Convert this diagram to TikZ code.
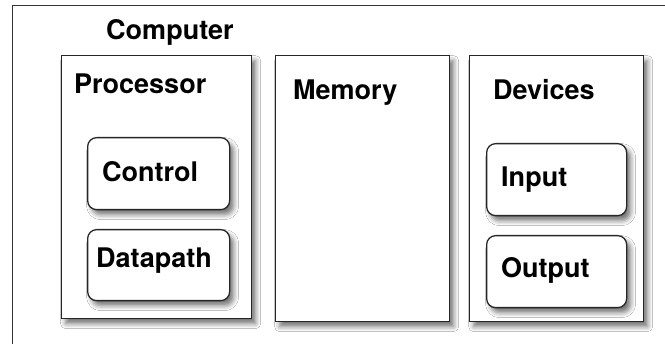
\documentclass[tikz,border=0pt]{standalone}
\usepackage{fontspec}
\setmainfont{TeX Gyre Heros}
\usetikzlibrary{shadows.blur}
\tikzset{
  box/.style={draw=black!85,line width=1.3pt,fill=white,inner sep=0pt,anchor=north west,
    blur shadow={shadow xshift=4pt,shadow yshift=-5pt,shadow blur radius=5pt,shadow opacity=55}},
  unit/.style={box,rounded corners=9pt},
  title/.style={font=\bfseries\fontsize{27}{27}\selectfont,anchor=base west,inner sep=0pt}
}
\begin{document}
\begin{tikzpicture}[x=1pt,y=-1pt]
\useasboundingbox (0,0) rectangle (665,344);
% whole machine, cut off at right and bottom
\node[draw=black!80,line width=1.3pt,fill=white,inner sep=0pt,anchor=north west,
  minimum width=700pt,minimum height=380pt] (computer) at (12,5) {};
\node[title] (computerlbl) at (106,40) {Computer};
% processor
\node[box,minimum width=190pt,minimum height=263pt] (processor) at (61,55) {};
\node[title] (processorlbl) at (74,94) {Processor};
\node[unit,minimum width=142pt,minimum height=72pt] (control) at (87,137) {};
\node[title] (controllbl) at (102,182) {Control};
\node[unit,minimum width=142pt,minimum height=71pt] (datapath) at (87,229) {};
\node[title] (datapathlbl) at (96,268) {Datapath};
% memory
\node[box,minimum width=174pt,minimum height=266pt] (memory) at (275,55) {};
\node[title] (memorylbl) at (293,100) {Memory};
% devices
\node[box,minimum width=174pt,minimum height=266pt] (devices) at (469,55) {};
\node[title] (deviceslbl) at (493,100) {Devices};
\node[unit,minimum width=140pt,minimum height=72pt] (input) at (486,143) {};
\node[title] (inputlbl) at (501,187) {Input};
\node[unit,minimum width=140pt,minimum height=72pt] (output) at (486,235) {};
\node[title] (outputlbl) at (501,278) {Output};
\end{tikzpicture}
\end{document}
